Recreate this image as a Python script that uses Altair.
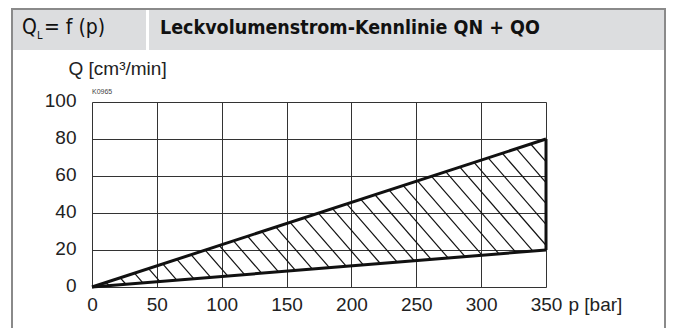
import altair as alt
import pandas as pd

# ---- data ----
p_vals = [0, 350]
q_upper = [0, 80]
q_lower = [0, 20]
x_ticks = [0, 50, 100, 150, 200, 250, 300, 350]
y_ticks = [0, 20, 40, 60, 80, 100]

title_left = "Q"
title_left_sub = "L"
title_left_rest = "= f (p)"
title_main = "Leckvolumenstrom-Kennlinie QN + QO"
code_label = "K0965"
x_title = "p [bar]"
y_title = "Q [cm³/min]"

W, H = 454, 185
PX_PER_P = W / 350.0
PX_PER_Q = H / 100.0

# hatch pattern (decoration) derived from the two boundary lines
hatch_slope_px = 1.15      # pixel dy/dx (downwards)
hatch_step_p = 14.0        # spacing along p axis at Q=0
m = hatch_slope_px * PX_PER_P / PX_PER_Q
su = q_upper[1] / p_vals[1]
sl = q_lower[1] / p_vals[1]
rows = []
a = hatch_step_p
while True:
    p_top = m * a / (su + m)
    if p_top >= p_vals[1]:
        break
    q_top = su * p_top
    p_bot = m * a / (sl + m)
    if p_bot > p_vals[1]:
        p_bot = p_vals[1]
    q_bot = -m * (p_bot - a)
    rows.append({"p": p_top, "q": q_top, "p2": p_bot, "q2": q_bot})
    a += hatch_step_p
hatch_df = pd.DataFrame(rows)

lines_df = pd.DataFrame({
    "p": p_vals + p_vals,
    "q": q_upper + q_lower,
    "s": ["upper", "upper", "lower", "lower"],
})
edge_df = pd.DataFrame({"p": [p_vals[1]], "q": [q_lower[1]], "q2": [q_upper[1]]})

xs = alt.Scale(domain=[0, 350], nice=False, zero=False)
ys = alt.Scale(domain=[0, 100], nice=False, zero=False)

FONT = "Liberation Sans"
NARROW = "DejaVu Sans Condensed"

x_axis = alt.Axis(values=x_ticks, tickCount=8, grid=True, ticks=False, domain=False,
                  labelFontSize=19, labelColor="#222", labelPadding=8,
                  gridColor="#333", gridWidth=1, labelFlush=False, labelOverlap=False,
                  title=x_title, titleFontSize=19, titleFontWeight="normal",
                  titleColor="#222", titleAnchor="start", titleAlign="left",
                  titleX=476, titleY=17, titleBaseline="middle")
y_axis = alt.Axis(values=y_ticks, tickCount=6, grid=True, ticks=False, domain=False,
                  labelFontSize=19, labelColor="#222", labelPadding=16,
                  gridColor="#333", gridWidth=1, labelFlush=False, labelOverlap=False,
                  labelOffset=-2,
                  title=y_title, titleFontSize=19, titleFontWeight="normal",
                  titleColor="#222", titleAngle=0, titleAlign="left",
                  titleX=-24, titleY=-34, titleBaseline="middle")

one = pd.DataFrame({"d": [0]})

# frame / header decorations (pixel positions relative to plot origin)
header_left = alt.Chart(one).mark_rect(color="#dcdddf").encode(
    x=alt.value(-80), x2=alt.value(54), y=alt.value(-93), y2=alt.value(-52))
header_right = alt.Chart(one).mark_rect(color="#dcdddf").encode(
    x=alt.value(57), x2=alt.value(574), y=alt.value(-93), y2=alt.value(-52))
border = alt.Chart(one).mark_rect(fill=None, stroke="#8a8a8a", strokeWidth=2).encode(
    x=alt.value(-80), x2=alt.value(573), y=alt.value(-93), y2=alt.value(240))

t_q = alt.Chart(one).mark_text(font=NARROW, fontSize=21, align="left", baseline="middle", color="#111").encode(
    x=alt.value(-70), y=alt.value(-74), text=alt.value(title_left))
t_sub = alt.Chart(one).mark_text(font=NARROW, fontSize=11, align="left", baseline="middle", color="#111").encode(
    x=alt.value(-55), y=alt.value(-66), text=alt.value(title_left_sub))
t_rest = alt.Chart(one).mark_text(font=NARROW, fontSize=21, align="left", baseline="middle", color="#111").encode(
    x=alt.value(-48), y=alt.value(-74), text=alt.value(title_left_rest))
t_main = alt.Chart(one).mark_text(font=NARROW, fontSize=19.5, fontWeight="bold", align="left", baseline="middle", color="#111").encode(
    x=alt.value(68), y=alt.value(-74), text=alt.value(title_main))
t_code = alt.Chart(one).mark_text(font=FONT, fontSize=7, align="left", baseline="middle", color="#444").encode(
    x=alt.value(0), y=alt.value(-10), text=alt.value(code_label))


def X(field):
    return alt.X(field, type="quantitative", scale=xs, axis=x_axis)


def Y(field):
    return alt.Y(field, type="quantitative", scale=ys, axis=y_axis)


grid_layer = alt.Chart(one).mark_point(opacity=0).encode(x=X("d"), y=Y("d"))

hatch = alt.Chart(hatch_df).mark_rule(color="#111", strokeWidth=1.2).encode(
    x=X("p"), y=Y("q"), x2="p2:Q", y2="q2:Q")

lines = alt.Chart(lines_df).mark_line(color="#111", strokeWidth=3).encode(
    x=X("p"), y=Y("q"), detail="s:N")

edge = alt.Chart(edge_df).mark_rule(color="#111", strokeWidth=3).encode(
    x=X("p"), y=Y("q"), y2="q2:Q")

chart = alt.layer(
    header_left, header_right, border, t_q, t_sub, t_rest, t_main, t_code,
    grid_layer, hatch, lines, edge
).properties(
    width=W, height=H,
    autosize=alt.AutoSizeParams(type="none"),
    padding={"left": 84, "top": 94, "right": 121, "bottom": 41},
).configure_view(stroke="#111", strokeWidth=1.5).configure(font=FONT)

chart.save("out.html", embed_options={"renderer": "svg", "actions": False})
